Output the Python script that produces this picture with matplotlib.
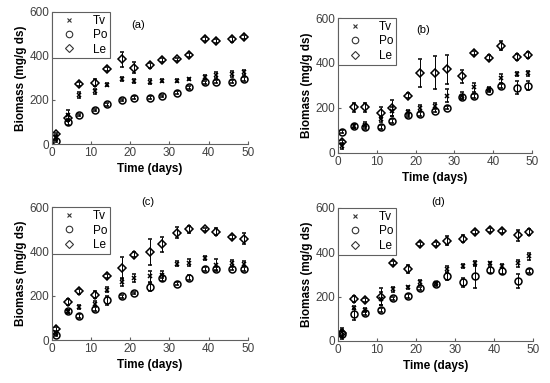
import matplotlib.pyplot as plt
from matplotlib.lines import Line2D

plt.rcParams["font.family"] = ["Liberation Sans", "DejaVu Sans"]

days = [1, 4, 7, 11, 14, 18, 21, 25, 28, 32, 35, 39, 42, 46, 49]
panel_tags = ["(a)", "(b)", "(c)", "(d)"]
series_names = ["Tv", "Po", "Le"]

# panel (a)
tv_a = [30, 130, 222, 240, 270, 295, 287, 283, 287, 287, 295, 305, 313, 318, 325]
tv_a_err = [10, 25, 15, 12, 6, 10, 10, 10, 6, 6, 6, 8, 12, 12, 12]
po_a = [14, 100, 131, 154, 180, 200, 210, 210, 218, 233, 257, 280, 283, 283, 295]
po_a_err = [5, 12, 6, 6, 6, 6, 6, 6, 6, 6, 6, 8, 8, 8, 8]
le_a = [44, 120, 272, 278, 340, 385, 346, 358, 381, 384, 403, 478, 468, 475, 487]
le_a_err = [8, 15, 10, 15, 10, 35, 25, 12, 10, 8, 8, 10, 8, 12, 8]

# panel (b)
tv_b = [30, 120, 125, 150, 185, 180, 200, 210, 255, 255, 292, 285, 332, 351, 354]
tv_b_err = [12, 10, 12, 15, 20, 10, 12, 12, 30, 15, 20, 10, 20, 10, 10]
po_b = [94, 119, 116, 116, 141, 168, 173, 188, 201, 247, 253, 277, 298, 290, 298]
po_b_err = [6, 8, 8, 8, 8, 8, 8, 8, 8, 8, 8, 8, 8, 30, 20]
le_b = [49, 202, 202, 179, 198, 255, 354, 357, 372, 340, 444, 424, 476, 426, 436]
le_b_err = [10, 20, 20, 25, 35, 12, 62, 72, 65, 30, 10, 10, 20, 12, 12]

# panel (c)
tv_c = [30, 130, 150, 165, 228, 262, 280, 288, 295, 345, 350, 370, 340, 348, 345]
tv_c_err = [8, 8, 8, 10, 12, 18, 18, 25, 15, 10, 15, 8, 25, 12, 12]
po_c = [25, 130, 110, 140, 180, 198, 213, 240, 282, 255, 282, 320, 320, 323, 320]
po_c_err = [6, 8, 8, 10, 20, 6, 6, 20, 15, 6, 10, 8, 8, 8, 8]
le_c = [50, 172, 220, 205, 290, 325, 385, 397, 432, 485, 500, 500, 490, 465, 457]
le_c_err = [10, 12, 10, 15, 10, 50, 12, 58, 35, 25, 15, 8, 15, 10, 25]

# panel (d)
tv_d = [40, 150, 140, 190, 232, 241, 264, 260, 324, 339, 350, 350, 339, 350, 382]
tv_d_err = [20, 8, 8, 30, 10, 8, 10, 8, 12, 8, 10, 8, 8, 15, 15]
po_d = [30, 120, 125, 140, 192, 202, 237, 255, 292, 264, 292, 320, 316, 270, 316]
po_d_err = [20, 25, 10, 10, 8, 8, 8, 8, 15, 20, 52, 15, 12, 30, 8]
le_d = [35, 189, 185, 200, 352, 324, 437, 437, 452, 462, 492, 500, 497, 477, 492]
le_d_err = [10, 12, 10, 40, 10, 18, 8, 8, 20, 15, 10, 10, 10, 25, 12]

panels = [
    [(tv_a, tv_a_err), (po_a, po_a_err), (le_a, le_a_err)],
    [(tv_b, tv_b_err), (po_b, po_b_err), (le_b, le_b_err)],
    [(tv_c, tv_c_err), (po_c, po_c_err), (le_c, le_c_err)],
    [(tv_d, tv_d_err), (po_d, po_d_err), (le_d, le_d_err)],
]

positions = [
    [0.0945, 0.624, 0.356, 0.345],
    [0.6145, 0.601, 0.353, 0.352],
    [0.0945, 0.112, 0.356, 0.347],
    [0.6145, 0.110, 0.355, 0.347],
]
tag_xy = [(22, 540), (22, 548), (24.5, 625), (25.6, 625)]
markers = ["x", "o", "D"]
msizes = [3.5, 5, 4.5]

fig = plt.figure(figsize=(5.5, 3.83), dpi=100)
gray = "#606060"

for pos, data, tag, txy in zip(positions, panels, panel_tags, tag_xy):
    ax = fig.add_axes(pos)
    for (vals, errs), mk, ms in zip(data, markers, msizes):
        ax.errorbar(days, vals, yerr=errs, fmt=mk, ms=ms, mfc="none", mec="black",
                    mew=1.1, ecolor="black", elinewidth=0.7, capsize=1.5, capthick=0.7)
    ax.set_xlim(0, 50)
    ax.set_ylim(0, 600)
    ax.set_xticks([0, 10, 20, 30, 40, 50])
    ax.set_yticks([0, 200, 400, 600])
    for s in ["top", "right"]:
        ax.spines[s].set_visible(False)
    for s in ["left", "bottom"]:
        ax.spines[s].set_color(gray)
        ax.spines[s].set_linewidth(0.8)
    ax.tick_params(direction="in", length=2, color=gray, labelcolor="#404040", labelsize=8.5, pad=2)
    ax.set_xlabel("Time (days)", fontsize=8.5, fontweight="bold", labelpad=3)
    ax.set_ylabel("Biomass (mg/g ds)", fontsize=8.5, fontweight="bold", labelpad=2)
    ax.text(txy[0], txy[1], tag, fontsize=8, ha="center", va="center", clip_on=False)

    handles = [Line2D([], [], ls="none", marker=mk, ms=ms - 0.3, mfc="none", mec="#333333", mew=0.8)
               for mk, ms in zip(markers, msizes)]
    leg = ax.legend(handles, series_names, loc="upper left", bbox_to_anchor=(0, 1), fontsize=8.5,
                    frameon=True, fancybox=False, borderaxespad=0, handlelength=2.4,
                    handletextpad=0.8, labelspacing=0.2, borderpad=0.25)
    leg.get_frame().set_edgecolor(gray)
    leg.get_frame().set_linewidth(0.8)
    leg.get_frame().set_alpha(1)

fig.savefig("out.png", dpi=100)
